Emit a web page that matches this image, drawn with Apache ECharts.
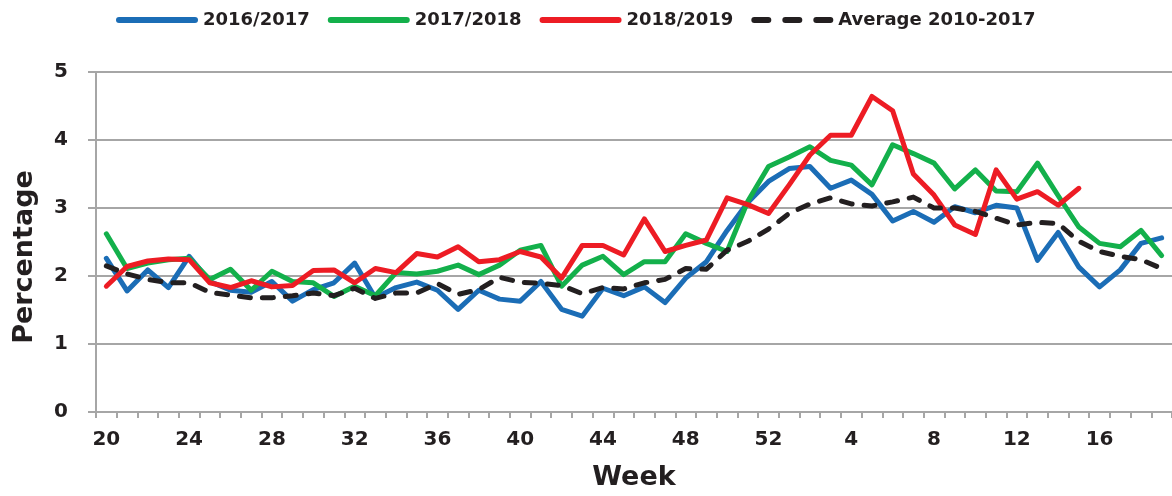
<!DOCTYPE html>
<html>
<head>
<meta charset="utf-8">
<script src="https://cdn.jsdelivr.net/npm/echarts@6/dist/echarts.min.js"></script>
<style>
  html, body { margin: 0; padding: 0; background: #fff; overflow: hidden; }
  #chart { width: 1172px; height: 496px; }
</style>
</head>
<body>
<div id="chart"></div>
<script>
// weeks 20..52 then 1..19
const weeks = ['20','21','22','23','24','25','26','27','28','29','30','31','32','33','34','35','36','37','38','39','40','41','42','43','44','45','46','47','48','49','50','51','52','1','2','3','4','5','6','7','8','9','10','11','12','13','14','15','16','17','18','19']

const season1617 = [2.26,1.78,2.09,1.83,2.29,1.92,1.79,1.76,1.92,1.63,1.80,1.90,2.19,1.68,1.83,1.91,1.79,1.51,1.79,1.66,1.63,1.92,1.51,1.41,1.82,1.71,1.84,1.61,1.97,2.21,2.67,3.08,3.39,3.58,3.61,3.29,3.41,3.20,2.81,2.95,2.79,3.02,2.93,3.04,3.00,2.23,2.64,2.13,1.84,2.09,2.48,2.56]

const season1718 = [2.62,2.11,2.19,2.24,2.26,1.95,2.10,1.79,2.07,1.92,1.90,1.70,1.85,1.71,2.05,2.03,2.07,2.16,2.02,2.16,2.38,2.45,1.85,2.16,2.29,2.02,2.21,2.21,2.62,2.48,2.36,3.10,3.61,3.75,3.90,3.70,3.63,3.34,3.93,3.80,3.66,3.28,3.56,3.25,3.24,3.66,3.18,2.72,2.48,2.43,2.67,2.30]

const season1819 = [1.85,2.14,2.22,2.25,2.24,1.90,1.83,1.93,1.84,1.86,2.08,2.09,1.90,2.11,2.05,2.33,2.28,2.43,2.21,2.24,2.36,2.28,1.97,2.45,2.45,2.31,2.84,2.36,2.45,2.53,3.15,3.05,2.92,3.34,3.78,4.07,4.07,4.64,4.43,3.50,3.19,2.75,2.61,3.56,3.13,3.24,3.04,3.29,null,null,null,null]

const average1017 = [2.15,2.03,1.95,1.90,1.90,1.76,1.72,1.68,1.68,1.71,1.75,1.71,1.82,1.67,1.75,1.75,1.89,1.73,1.80,1.98,1.91,1.89,1.86,1.74,1.83,1.81,1.90,1.95,2.11,2.10,2.38,2.51,2.69,2.92,3.06,3.15,3.06,3.03,3.09,3.16,3.00,3.00,2.95,2.85,2.75,2.79,2.77,2.51,2.36,2.29,2.24,2.11]

const yTicks = [0, 1, 2, 3, 4, 5]

const FONT = '"DejaVu Sans", Arial, sans-serif'
const TEXT = '#231f20'
const GRAY = '#a6a6a6'

// legend swatches: a rounded bar, and three rounded dashes
const solidIcon = 'path://M3,0H79A3,3,0,0,1,79,6H3A3,3,0,0,1,3,0Z'
const dashIcon = 'path://M3,0H17A3,3,0,0,1,17,6H3A3,3,0,0,1,3,0Z' +
  'M34,0H48A3,3,0,0,1,48,6H34A3,3,0,0,1,34,0Z' +
  'M65,0H79A3,3,0,0,1,79,6H65A3,3,0,0,1,65,0Z'

function lineSeries(name, data, color, dashed) {
  return {
    name: name,
    type: 'line',
    data: data,
    symbol: 'none',
    connectNulls: false,
    lineStyle: {
      color: color,
      width: 5,
      type: dashed ? [11, 12] : 'solid',
      cap: 'round',
      join: 'round'
    },
    itemStyle: { color: color }
  }
}

let myChart = echarts.init(document.getElementById('chart'), null, { renderer: 'canvas' })

const options = {
  animation: false,
  backgroundColor: '#fff',
  textStyle: { fontFamily: FONT },
  legend: {
    left: 111,
    top: 6,
    itemWidth: 82,
    itemHeight: 6,
    itemGap: 18,
    symbolKeepAspect: false,
    itemStyle: { borderWidth: 0 },
    textStyle: {
      fontFamily: FONT,
      fontSize: 18,
      fontWeight: 'bold',
      color: TEXT
    },
    data: [
      { name: '2016/2017', icon: solidIcon },
      { name: '2017/2018', icon: solidIcon },
      { name: '2018/2019', icon: solidIcon },
      { name: 'Average 2010-2017', icon: dashIcon }
    ]
  },
  grid: {
    left: 96,
    right: -13,
    top: 72,
    bottom: 78,
    containLabel: false
  },
  xAxis: {
    type: 'category',
    data: weeks,
    boundaryGap: true,
    name: 'Week',
    nameLocation: 'middle',
    nameGap: 52,
    nameTextStyle: {
      fontFamily: FONT,
      fontSize: 27,
      fontWeight: 'bold',
      color: TEXT
    },
    axisLine: { lineStyle: { color: GRAY, width: 2 } },
    axisTick: {
      show: true,
      interval: 0,
      alignWithLabel: false,
      length: 6,
      lineStyle: { color: GRAY, width: 2 }
    },
    axisLabel: {
      interval: 3,
      margin: 18,
      fontFamily: FONT,
      fontSize: 20,
      fontWeight: 'bold',
      color: TEXT
    },
    splitLine: { show: false }
  },
  yAxis: {
    type: 'value',
    min: yTicks[0],
    max: yTicks[yTicks.length - 1],
    interval: 1,
    name: 'Percentage',
    nameLocation: 'middle',
    nameGap: 58,
    nameRotate: 90,
    nameTextStyle: {
      fontFamily: FONT,
      fontSize: 27,
      fontWeight: 'bold',
      color: TEXT,
      padding: [0, 30, 0, 0]
    },
    axisLine: { show: true, lineStyle: { color: GRAY, width: 2 } },
    axisTick: { show: true, inside: false, length: 8, lineStyle: { color: GRAY, width: 2 } },
    axisLabel: {
      margin: 28,
      fontFamily: FONT,
      fontSize: 20,
      fontWeight: 'bold',
      color: TEXT
    },
    splitLine: { show: true, lineStyle: { color: GRAY, width: 2 } }
  },
  series: [
    lineSeries('2016/2017', season1617, '#1b6db6', false),
    lineSeries('2017/2018', season1718, '#13b04b', false),
    lineSeries('2018/2019', season1819, '#ed1c24', false),
    lineSeries('Average 2010-2017', average1017, '#231f20', true)
  ]
}
myChart.setOption(options)
</script>
</body>
</html>
